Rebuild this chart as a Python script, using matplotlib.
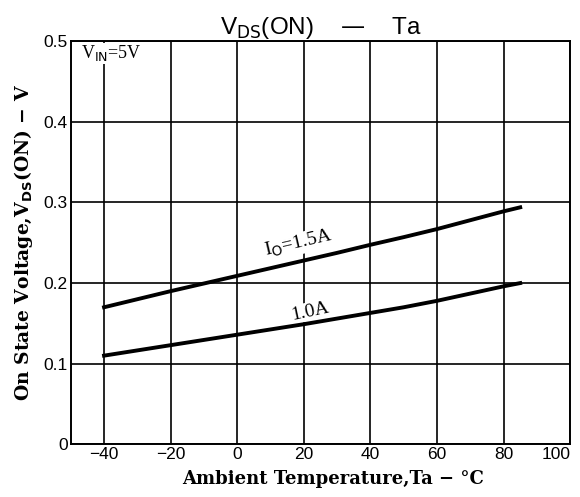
import matplotlib.pyplot as plt
from matplotlib import font_manager

# temperatures (degC)
ta = [-40, -30, -20, -10, 0, 10, 20, 30, 40, 50, 60, 70, 80, 85]
vds_15a = [0.170, 0.180, 0.190, 0.1995, 0.209, 0.2185, 0.228, 0.2375,
           0.2475, 0.257, 0.267, 0.278, 0.289, 0.294]
vds_10a = [0.110, 0.1165, 0.123, 0.1295, 0.136, 0.1425, 0.149, 0.156,
           0.163, 0.170, 0.178, 0.187, 0.196, 0.200]

xticks = [-40, -20, 0, 20, 40, 60, 80, 100]
xticklabels = ["\u221240", "\u221220", "0", "20", "40", "60", "80", "100"]
yticks = [0, 0.1, 0.2, 0.3, 0.4, 0.5]
yticklabels = ["0", "0.1", "0.2", "0.3", "0.4", "0.5"]


def tickFont():
    # narrow font if there is one, like the scanned datasheet
    try:
        font_manager.findfont("Liberation Sans Narrow", fallback_to_default=False)
        return "Liberation Sans Narrow"
    except Exception:
        return "Liberation Sans"


def main():
    fig = plt.figure(figsize=(5.8, 4.97), dpi=100)
    ax = fig.add_axes([0.122, 0.106, 0.861, 0.811])

    tf = tickFont()
    ax.set_xlim(-50, 100)
    ax.set_ylim(0, 0.5)
    ax.set_xticks(xticks)
    ax.set_yticks(yticks)
    ax.set_xticklabels(xticklabels, family=[tf], fontsize=12.5)
    ax.set_yticklabels(yticklabels, family=[tf], fontsize=12.5)
    ax.tick_params(length=0, pad=2)
    if tf == "Liberation Sans":
        ax.get_xticklabels()[-1].set_horizontalalignment("right")
        ax.get_xticklabels()[-1].set_x(100.5)
    ax.grid(True, color="black", linewidth=1.2)
    for s in ax.spines.values():
        s.set_linewidth(1.4)

    ax.plot(ta, vds_15a, color="black", linewidth=2.8, zorder=3)
    ax.plot(ta, vds_10a, color="black", linewidth=2.8, zorder=3)

    lbl = dict(ha="center", va="center", fontsize=14, family=["Liberation Serif"],
               zorder=2.5, bbox=dict(facecolor="white", edgecolor="none", pad=0.5))
    ax.text(18.5, 0.249, "I$_\\mathrm{O}$=1.5A", rotation=13, **lbl)
    ax.text(22, 0.165, "1.0A", rotation=12, **lbl)
    ax.text(-46.8, 0.485, "V$_\\mathrm{IN}$=5V", ha="left", va="center",
            fontsize=13, family=["Liberation Serif"], zorder=2.5,
            bbox=dict(facecolor="white", edgecolor="none", pad=0.5))

    ax.set_title("V$_\\mathsf{DS}$(ON)    \u2014    Ta", fontsize=17.5, pad=3,
                 family=["Liberation Sans"])
    ax.set_xlabel("Ambient Temperature,Ta \u2212 \u00b0C", fontsize=13,
                  fontweight="bold", family=["DejaVu Serif"])
    ax.xaxis.set_label_coords(0.525, -0.064)
    ax.set_ylabel("On State Voltage,V$_\\mathbf{DS}$(ON) \u2212 V", fontsize=13.5,
                  fontweight="bold", family=["DejaVu Serif"], labelpad=6)

    plt.savefig("out.png", dpi=100)


if __name__ == "__main__":
    main()
